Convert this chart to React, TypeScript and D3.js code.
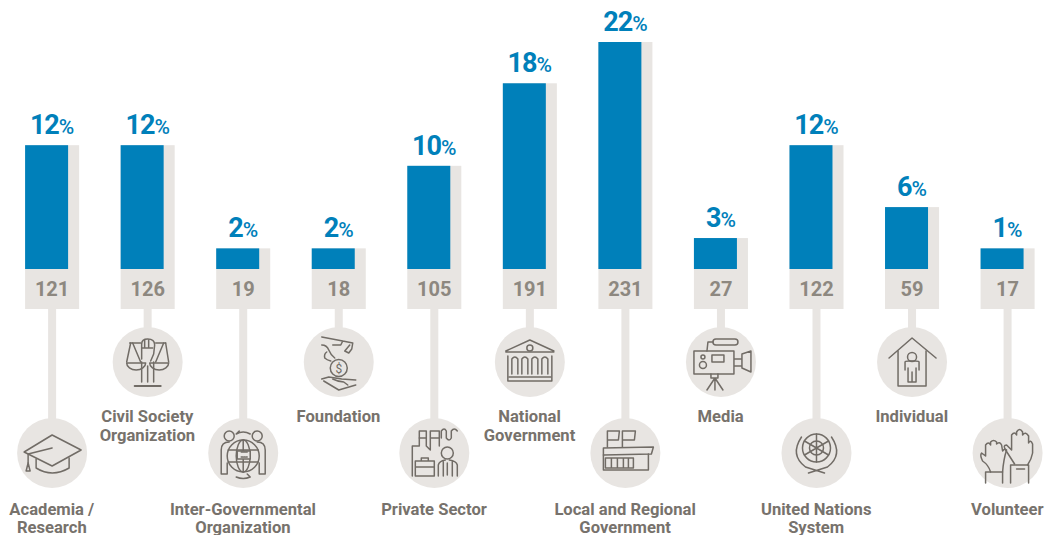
import React from 'react';
import * as d3 from 'd3';

const categories = ['Academia', 'Civil', 'Inter', 'Foundation', 'Private', 'National', 'Local', 'Media', 'UN', 'Individual', 'Volunteer'];
const labelLines = [
  ['Academia /', 'Research'],
  ['Civil Society', 'Organization'],
  ['Inter-Governmental', 'Organization'],
  ['Foundation'],
  ['Private Sector'],
  ['National', 'Government'],
  ['Local and Regional', 'Government'],
  ['Media'],
  ['United Nations', 'System'],
  ['Individual'],
  ['Volunteer'],
];
const percentLabels = [12, 12, 2, 2, 10, 18, 22, 3, 12, 6, 1];
// the source draws Volunteer at the same height as the 2% bars
const barValues = [12, 12, 2, 2, 10, 18, 22, 3, 12, 6, 2];
const counts = [121, 126, 19, 18, 105, 191, 231, 27, 122, 59, 17];
const lowerRow = [true, false, true, false, true, false, true, false, true, false, true];

const BLUE = '#0080ba';
const LIGHT = '#e8e5e2';
const ICON = '#716c66';
const LABEL = '#77726c';
const COUNT = '#8d8880';

const width = 1047;
const height = 535;
const font = 'Roboto, sans-serif';

const icons: Record<string, React.ReactNode> = {
  Academia: (
    <>
      <path d="M-28 -1L0 -18L29 -3L0 13Z" />
      <path d="M-16 6V15Q0 25 17 15V5" />
      <path d="M0 -5L-24 1V10" />
      <path d="M-24 10L-26 18H-22L-24 10" />
    </>
  ),
  Civil: (
    <>
      <path d="M-13 24H13" strokeWidth={2} />
      <path d="M-6 20V0M6 20V0M0 20V4" />
      <path d="M-6 -3L-6 -18Q-6 -23 0 -23Q7 -23 7 -17L6 -8L3 -1" />
      <path d="M-3 -22V-15M1 -22V-15M-6 -14H5" />
      <path d="M-18 -19H-7M8 -19H18" />
      <path d="M-17 -19L-21 0M-15 -19L-7 0M16 -19L8 0M18 -19L21 0" />
      <path d="M-21 1H-2A9.500 7 0 0 1 -21 1ZM2 1H21A9.500 7 0 0 1 2 1Z" />
    </>
  ),
  Inter: (
    <>
      <circle cx={0} cy={3} r={16} />
      <ellipse cx={0} cy={3} rx={7} ry={16} />
      <path d="M-15 -3H15M-15 9H15M0 -13V19" />
      <rect x={-6} y={-2} width={13} height={8} fill={LIGHT} />
      <path d="M-2 -1H4M-2 4H4" strokeDasharray="1.500 1" />
      <circle cx={-14} cy={-17} r={5} />
      <circle cx={14} cy={-17} r={5} />
      <path d="M-14 -11Q-22 -11 -22 -3V21H-16V10M14 -11Q22 -11 22 -3V21H16V10" />
      <path d="M-7 -19Q0 -23 7 -19M-7 -19L-4 -22M7 24Q0 27 -7 24M7 24L4 21" />
    </>
  ),
  Foundation: (
    <>
      <circle cx={0} cy={6} r={8.500} />
      <text x={0} y={10.500} fontSize={12} fontFamily={font} fill={ICON} stroke="none" textAnchor="middle">$</text>
      <path d="M-17 -25L4 -21L14 -19L13 -13L10 -9L6 -11L11 -17M4 -21L2 -17H-6" />
      <path d="M-17 -17Q-12 -17 -10 -12Q-8 -7 -4 -4M-12 -10Q-15 -8 -14 -4Q-12 -2 -8 -1" />
      <path d="M-17 17L-10 15L3 17L17 18M-15 19L0 28L17 23" />
      <path d="M-6 17Q0 20 5 20L9 23" />
    </>
  ),
  Private: (
    <>
      <path d="M-22 23V-7H-15V-22H-8V-7L-4 -3V-22H5V-7" />
      <path d="M-15 -15H-8M-3 -15H5" />
      <path d="M7 -15V-22Q10 -26 12 -22V-15Q15 -11 17 -15V-22Q20 -26 23 -22" />
      <path d="M-19 8H0V23H-19ZM-19 14H0M-13 8V5H-6V8" />
      <circle cx={13} cy={0} r={6} />
      <path d="M4 23V12Q5 8 11 7M23 23V12Q22 8 15 7M9 8V23M18 8V23M13 10V22" />
    </>
  ),
  National: (
    <>
      <path d="M-24 -11L0 -22L24 -11M-24 -10H24" />
      <circle cx={0} cy={-14} r={3} />
      <path d="M-22 -6V19M22 -6V19M-21 19H21" />
      <path d="M-18 12V-3Q-15 -7 -12 -3V12M-8 12V-3Q-5 -7 -2 -3V12M2 12V-3Q5 -7 8 -3V12M12 12V-3Q15 -7 18 -3V12" />
      <path d="M-21 15H21" />
    </>
  ),
  Local: (
    <>
      <path d="M-18 -6V-22H-6L-7 -13H-18M-3 -6V-22H10L9 -13H-3" />
      <path d="M-22 -5L28 -6L26 1L-22 2Z" />
      <path d="M-22 2V17H23V1" />
      <path d="M-20 5H8V15H-20ZM-14 5V15M-8 5V15M-2 5V15M3 5V15" />
    </>
  ),
  Media: (
    <>
      <path d="M-27 -11H13V12H-27ZM13 -3L21 -3V4L13 4M21 -8L30 -11V10L21 6Z" />
      <circle cx={-18} cy={-5} r={2} />
      <circle cx={-18} cy={3} r={3.500} />
      <rect x={-9} y={-7} width={12} height={7} />
      <rect x={-8} y={-23} width={25} height={6} rx={3} />
      <path d="M-8 -20H-13L-14 -11" />
      <path d="M-10 12V16H-3V12M-6 16L-14 28M-6 16V28M-6 16L2 28" />
    </>
  ),
  UN: (
    <>
      <circle cx={0} cy={-5} r={14} />
      <circle cx={0} cy={-5} r={7} />
      <path d="M-12 -12L12 2M12 -12L-12 2M0 -19V9" />
      <path d="M-15 -16Q-27 2 -11 14L8 20M15 -16Q27 2 11 14L-8 20" />
    </>
  ),
  Individual: (
    <>
      <path d="M-23 -4L0 -24L24 -4" />
      <path d="M-14 -11V24H14V-11" />
      <circle cx={0} cy={-5} r={4.500} />
      <path d="M-7 8V0Q-7 -1 -3 -1H3Q7 -1 7 0V8M-4 6V20H4V6M0 10V20" />
    </>
  ),
  Volunteer: (
    <>
      <path d="M-17 19Q-19 12 -25 8Q-28 2 -26 0L-22 3V-8Q-19 -12 -17 -8V-11Q-14 -14 -11 -11V-9Q-8 -12 -6 -8L-5 -2Q-3 -5 -1 -3Q-4 6 -5 19" />
      <path d="M-22 19H-5M-22 19V30M-5 19V30" />
      <path d="M7 11L-2 -3Q-5 -8 -1 -8L4 -3V-18Q7 -22 9 -18V-21Q12 -26 15 -21V-18Q18 -22 21 -17V-10Q23 -14 25 -9V0Q24 6 20 12" />
      <path d="M3 12H21V30M3 12V30M9 16H17" />
    </>
  ),
};

export default function App() {
  const x = d3.scaleBand<string>().domain(categories).range([25.1, 1034.6]).paddingInner(1 - 54 / 95.5).paddingOuter(0);
  const y = d3.scaleLinear().domain([0, 22]).range([269, 42]);
  const boxBottom = 309;
  const blueWidth = 43;

  return (
    <svg width={width} height={height} viewBox={`0 0 ${width} ${height}`} style={{ position: 'absolute', left: 0, top: 0, background: '#fff' }}>
      {categories.map((c, i) => {
        const left = x(c) as number;
        const cx = left + x.bandwidth() / 2;
        const top = y(barValues[i]);
        const lower = lowerRow[i];
        const cy = lower ? 453 : 362;
        const baseline = lower ? 515 : 422;
        const lineGap = lower ? 18 : 19;
        return (
          <g key={c}>
            <rect x={cx - 4} y={boxBottom} width={8} height={cy - boxBottom} fill={LIGHT} />
            <rect x={left} y={top} width={x.bandwidth()} height={boxBottom - top} fill={LIGHT} />
            <rect x={left} y={top} width={blueWidth} height={y(0) - top} fill={BLUE} />
            <text x={cx} y={top - 11} textAnchor="middle" fontFamily={font} fontWeight={700} fontSize={27} letterSpacing={-1} fill={BLUE}>
              {percentLabels[i]}
              <tspan fontSize={21} fontWeight={500} letterSpacing={0}>%</tspan>
            </text>
            <text x={cx} y={296} textAnchor="middle" fontFamily={font} fontWeight={700} fontSize={20} fill={COUNT}>{counts[i]}</text>
            <circle cx={cx} cy={cy} r={35} fill={LIGHT} />
            <g transform={`translate(${cx},${cy})`} fill="none" stroke={ICON} strokeWidth={1.5} strokeLinejoin="round" strokeLinecap="round">
              {icons[c]}
            </g>
            <text textAnchor="middle" fontFamily={font} fontWeight={700} fontSize={16.6} fill={LABEL}>
              {labelLines[i].map((line, j) => (
                <tspan key={line} x={cx - 0.3} y={baseline + j * lineGap}>{line}</tspan>
              ))}
            </text>
          </g>
        );
      })}
    </svg>
  );
}
